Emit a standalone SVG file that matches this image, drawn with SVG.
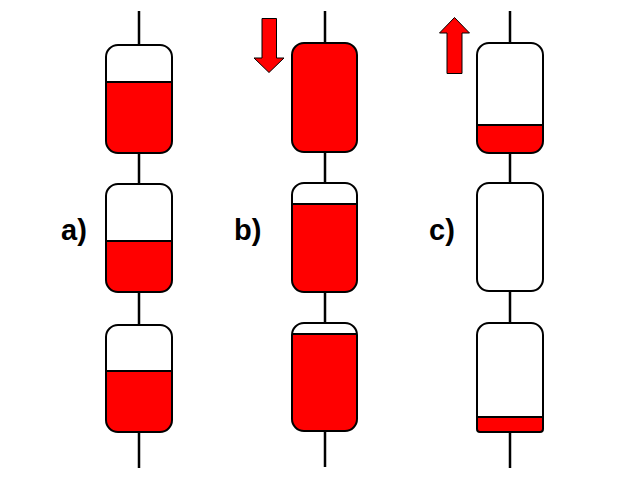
<svg xmlns="http://www.w3.org/2000/svg" width="635" height="479" viewBox="0 0 635 479">
<style>
.bg{fill:#ffffff}
.cap{fill:none;stroke:#000;stroke-width:2}
.capbg{fill:#ffffff}
.red{fill:#ff0000}
.lvl{stroke:#000;stroke-width:2}
.wire{stroke:#000;stroke-width:2.5;fill:none}
.arrow{fill:#ff0000;stroke:#000;stroke-width:1}
.lbl{font-family:"Liberation Sans",Arial,sans-serif;font-weight:bold;font-size:29px;fill:#000}
</style>
<defs>
<clipPath id="ca1"><rect x="106" y="45" width="66" height="108" rx="12"/></clipPath>
<clipPath id="ca2"><rect x="106" y="184" width="66" height="108" rx="12"/></clipPath>
<clipPath id="ca3"><rect x="106" y="325" width="66" height="107" rx="12"/></clipPath>
<clipPath id="cb2"><rect x="292" y="183" width="65" height="109" rx="12"/></clipPath>
<clipPath id="cb3"><rect x="292" y="323" width="65" height="108" rx="12"/></clipPath>
<clipPath id="cc1"><rect x="477" y="43" width="66" height="110" rx="12"/></clipPath>
</defs>
<rect class="bg" x="0" y="0" width="635" height="479"/>
<g id="connectors">
<line class="wire" x1="139" y1="11" x2="139" y2="468"/>
<line class="wire" x1="325" y1="11" x2="325" y2="467"/>
<line class="wire" x1="510" y1="11" x2="510" y2="468"/>
</g>
<g id="a1">
<rect class="capbg" x="106" y="45" width="66" height="108" rx="12"/>
<rect class="red" x="106" y="82" width="66" height="71" clip-path="url(#ca1)"/>
<line class="lvl" x1="106" y1="82" x2="172" y2="82"/>
<rect class="cap" x="106" y="45" width="66" height="108" rx="12"/>
</g>
<g id="a2">
<rect class="capbg" x="106" y="184" width="66" height="108" rx="12"/>
<rect class="red" x="106" y="241" width="66" height="51" clip-path="url(#ca2)"/>
<line class="lvl" x1="106" y1="241" x2="172" y2="241"/>
<rect class="cap" x="106" y="184" width="66" height="108" rx="12"/>
</g>
<g id="a3">
<rect class="capbg" x="106" y="325" width="66" height="107" rx="12"/>
<rect class="red" x="106" y="371" width="66" height="61" clip-path="url(#ca3)"/>
<line class="lvl" x1="106" y1="371" x2="172" y2="371"/>
<rect class="cap" x="106" y="325" width="66" height="107" rx="12"/>
</g>
<g id="b1">
<rect class="red" x="292" y="43" width="65" height="109" rx="12"/>
<rect class="cap" x="292" y="43" width="65" height="109" rx="12"/>
</g>
<g id="b2">
<rect class="capbg" x="292" y="183" width="65" height="109" rx="12"/>
<rect class="red" x="292" y="204" width="65" height="88" clip-path="url(#cb2)"/>
<line class="lvl" x1="292" y1="204" x2="357" y2="204"/>
<rect class="cap" x="292" y="183" width="65" height="109" rx="12"/>
</g>
<g id="b3">
<rect class="capbg" x="292" y="323" width="65" height="108" rx="12"/>
<rect class="red" x="292" y="334" width="65" height="97" clip-path="url(#cb3)"/>
<line class="lvl" x1="292" y1="334" x2="357" y2="334"/>
<rect class="cap" x="292" y="323" width="65" height="108" rx="12"/>
</g>
<g id="c1">
<rect class="capbg" x="477" y="43" width="66" height="110" rx="12"/>
<rect class="red" x="477" y="125" width="66" height="28" clip-path="url(#cc1)"/>
<line class="lvl" x1="477" y1="125" x2="543" y2="125"/>
<rect class="cap" x="477" y="43" width="66" height="110" rx="12"/>
</g>
<g id="c2">
<rect class="capbg" x="477" y="183" width="66" height="108" rx="12"/>
<rect class="cap" x="477" y="183" width="66" height="108" rx="12"/>
</g>
<g id="c3">
<path class="capbg" d="M489,323 H531 A12,12 0 0 1 543,335 V429 A3,3 0 0 1 540,432 H480 A3,3 0 0 1 477,429 V335 A12,12 0 0 1 489,323 Z"/>
<path class="red" d="M477,417 H543 V429 A3,3 0 0 1 540,432 H480 A3,3 0 0 1 477,429 Z"/>
<line class="lvl" x1="477" y1="417" x2="543" y2="417"/>
<path class="cap" d="M489,323 H531 A12,12 0 0 1 543,335 V429 A3,3 0 0 1 540,432 H480 A3,3 0 0 1 477,429 V335 A12,12 0 0 1 489,323 Z"/>
</g>
<g id="arrow-down">
<polygon class="arrow" points="262,18.5 276.5,18.5 276.5,58 284,58 269,72.5 254,58 262,58"/>
</g>
<g id="arrow-up">
<polygon class="arrow" points="454.5,17.5 469.5,33 462,33 462,73.5 447,73.5 447,33 439.5,33"/>
</g>
<g id="labels">
<text class="lbl" x="61" y="240">a)</text>
<text class="lbl" x="234" y="240">b)</text>
<text class="lbl" x="429" y="240">c)</text>
</g>
</svg>
